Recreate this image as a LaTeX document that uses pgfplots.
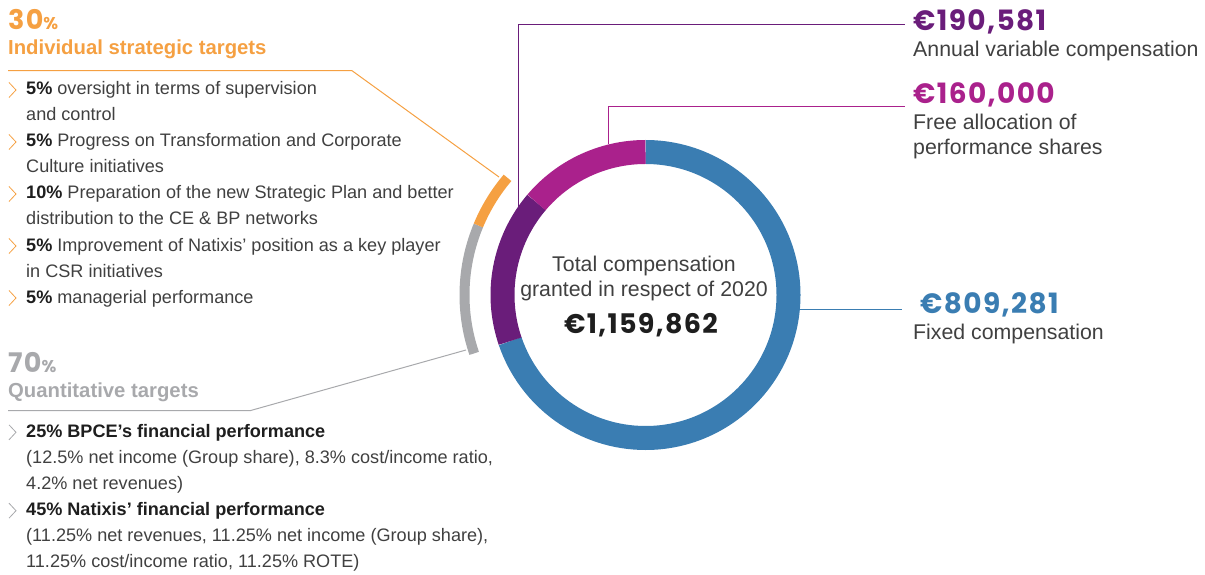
\documentclass[border=0pt]{standalone}
\usepackage{pgfplots}
\pgfplotsset{compat=1.18}
\usepackage{pgfplotstable}
\usepackage{fontspec}
\setmainfont{Liberation Sans}
\newfontfamily\numfont{Poppins}[LetterSpace=5]
\definecolor{cfix}{RGB}{58,125,178}
\definecolor{cvar}{RGB}{106,29,122}
\definecolor{cshr}{RGB}{170,33,140}
\definecolor{corg}{RGB}{245,160,66}
\definecolor{cgry}{RGB}{168,169,172}
\definecolor{ctxt}{RGB}{64,64,64}
\definecolor{cdark}{RGB}{30,30,30}

% compensation granted in respect of 2020 (EUR)
\pgfplotstableread{
part value
fixed 809281
variable 190581
shares 160000
}\comp
% split of the annual variable compensation (%)
\pgfplotstableread{
part share
quantitative 70
individual 30
}\varsplit

\pgfplotstablegetelem{0}{value}\of\comp \let\vA\pgfplotsretval
\pgfplotstablegetelem{1}{value}\of\comp \let\vB\pgfplotsretval
\pgfplotstablegetelem{2}{value}\of\comp \let\vC\pgfplotsretval
\pgfplotstablegetelem{0}{share}\of\varsplit \let\sQ\pgfplotsretval
\edef\T{\fpeval{\vA+\vB+\vC}}
\edef\aA{\fpeval{round(90-360*\vA/\T,3)}}
\edef\aB{\fpeval{round(\aA-360*\vB/\T,3)}}
\edef\aQ{\fpeval{round(\aA-360*\vB/\T*\sQ/100,3)}}
\def\cx{645.5}\def\cy{279}

\newcommand\segw[5]{% color, start, end, radius, width
  \edef\sx{\fpeval{round(\cx+#4*cosd(#2),3)}}%
  \edef\sy{\fpeval{round(\cy+#4*sind(#2),3)}}%
  \edef\tmp{\noexpand\draw[#1,line width=#5pt,line cap=butt]
    (axis cs:\sx,\sy) arc[start angle=#2,end angle=#3,radius=#4pt];}%
  \tmp}
\newcommand\chev[2]{\draw[#1,line width=0.8pt] (axis cs:9,#2+12.5) -- (axis cs:16,#2+5) -- (axis cs:9,#2-2.5);}
\newcommand\bl[2]{\node[anchor=base west,inner sep=0pt,text=ctxt,font=\fontsize{18.1}{20}\selectfont] at (axis cs:26,#1) {#2};}
\newcommand\rt[3]{\node[anchor=base west,inner sep=0pt,text=ctxt,font=\fontsize{21.3}{24}\selectfont] at (axis cs:#1,#2) {#3};}
\newcommand\amt[4]{\node[anchor=base west,inner sep=0pt,text=#1,font=\numfont\bfseries\fontsize{28}{30}\selectfont] at (axis cs:#2,#3) {#4};}

\begin{document}
\begin{tikzpicture}
\begin{axis}[
  scale only axis, width=1205pt, height=574pt,
  xmin=0, xmax=1205, ymin=0, ymax=574,
  hide axis, clip=false]
% donut
\segw{cfix}{90}{\aA}{143}{24}
\segw{cvar}{\aA}{\aB}{143}{24}
\segw{cshr}{\aB}{-270}{143}{24}
% split of variable
\segw{cgry}{\aA}{\aQ}{181}{10}
\segw{corg}{\aQ}{\aB}{181}{10}
% connectors
\draw[corg,line width=1pt] (axis cs:8,503.3) -- (axis cs:352,503.3) -- (axis cs:499,397);
\draw[cgry,line width=1pt] (axis cs:8,163.3) -- (axis cs:250,163.3) -- (axis cs:466,224);
\draw[cvar,line width=1pt] (axis cs:518,367) -- (axis cs:518,549) -- (axis cs:905,549);
\draw[cshr,line width=1pt] (axis cs:608,429.5) -- (axis cs:608,467.3) -- (axis cs:905,467.3);
\draw[cfix,line width=1pt] (axis cs:799,265) -- (axis cs:902,265);
% left: individual
\node[anchor=base west,inner sep=0pt,text=corg] at (axis cs:8,544.7)
  {\numfont\bfseries\fontsize{27}{30}\selectfont 30\fontsize{17}{20}\selectfont\%};
\node[anchor=base west,inner sep=0pt,text=corg,font=\bfseries\fontsize{20.3}{24}\selectfont] at (axis cs:8,519) {Individual strategic targets};
\chev{corg}{479}
\chev{corg}{427}
\chev{corg}{375}
\chev{corg}{323}
\chev{corg}{271}
\bl{479}{\textbf{\color{cdark}5\%} oversight in terms of supervision}
\bl{453}{and control}
\bl{427}{\textbf{\color{cdark}5\%} Progress on Transformation and Corporate}
\bl{401}{Culture initiatives}
\bl{375}{\textbf{\color{cdark}10\%} Preparation of the new Strategic Plan and better}
\bl{349}{distribution to the CE \& BP networks}
\bl{323}{\textbf{\color{cdark}5\%} Improvement of Natixis' position as a key player}
\bl{297}{in CSR initiatives}
\bl{271}{\textbf{\color{cdark}5\%} managerial performance}
% left: quantitative
\node[anchor=base west,inner sep=0pt,text=cgry] at (axis cs:8,201.7)
  {\numfont\bfseries\fontsize{27}{30}\selectfont 70\fontsize{17}{20}\selectfont\%};
\node[anchor=base west,inner sep=0pt,text=cgry,font=\bfseries\fontsize{20.3}{24}\selectfont] at (axis cs:8,176.7) {Quantitative targets};
\chev{cgry}{136.7}
\chev{cgry}{58.3}
\bl{136.7}{\textbf{\color{cdark}25\% BPCE’s financial performance}}
\bl{110.7}{(12.5\% net income (Group share), 8.3\% cost/income ratio,}
\bl{84.7}{4.2\% net revenues)}
\bl{58.3}{\textbf{\color{cdark}45\% Natixis’ financial performance}}
\bl{32.3}{(11.25\% net revenues, 11.25\% net income (Group share),}
\bl{6.3}{11.25\% cost/income ratio, 11.25\% ROTE)}
% centre
\node[anchor=base,inner sep=0pt,text=ctxt,font=\fontsize{21.3}{24}\selectfont] at (axis cs:644,302.3) {Total compensation};
\node[anchor=base,inner sep=0pt,text=ctxt,font=\fontsize{21.3}{24}\selectfont] at (axis cs:644,277.3) {granted in respect of 2020};
\node[anchor=base,inner sep=0pt,text=cdark,font=\numfont\bfseries\fontsize{27}{30}\selectfont] at (axis cs:641,240.7) {€1,159,862};
% right
\amt{cvar}{913}{543.3}{€190,581}
\rt{913}{517.3}{Annual variable compensation}
\amt{cshr}{913}{470}{€160,000}
\rt{913}{444.7}{Free allocation of}
\rt{913}{419}{performance shares}
\amt{cfix}{920}{260.7}{€809,281}
\rt{913}{234.7}{Fixed compensation}
\end{axis}
\pgfresetboundingbox
\path (current axis.south west) rectangle (current axis.north east);
\end{tikzpicture}
\end{document}
